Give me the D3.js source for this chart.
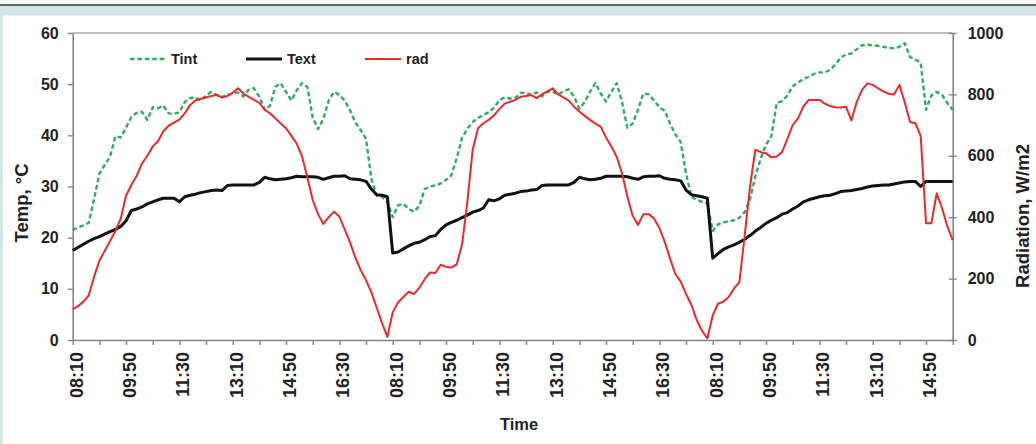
<!DOCTYPE html>
<html><head><meta charset="utf-8">
<script src="https://cdn.jsdelivr.net/npm/d3@7"></script>
<style>
html,body{margin:0;padding:0;background:#fff;}
svg{display:block;font-family:"Liberation Sans",Arial,sans-serif;}
</style></head><body>
<svg id="c" width="1036" height="444"></svg>
<script>
// ---- data ----
const tint = [
21.5,22.0,22.4,22.9,27.5,32.5,34.2,35.8,39.8,39.6,
41.5,43.6,44.4,44.6,43.0,45.5,45.3,45.8,44.3,44.2,
44.5,46.5,47.3,47.4,46.8,47.8,48.5,47.9,47.5,47.9,
48.2,48.4,47.6,48.9,49.2,47.5,45.0,45.8,49.5,50.2,
48.5,46.8,48.8,50.2,49.5,43.5,41.2,43.2,46.8,48.5,
47.9,46.8,44.9,42.5,41.0,39.3,31.5,28.2,28.0,27.0,
24.0,26.3,26.6,25.6,25.1,26.2,29.5,30.0,30.2,30.6,
31.3,32.2,35.5,39.5,41.3,42.6,43.4,44.0,44.5,45.4,
46.9,47.4,47.2,47.3,48.3,48.3,47.9,48.4,47.6,48.5,
48.6,47.9,48.6,49.0,47.6,45.2,46.5,48.5,50.2,48.2,
46.6,48.5,50.2,46.5,41.5,42.3,45.0,48.2,48.0,46.8,
45.5,44.8,42.3,40.2,38.7,32.5,28.0,27.4,27.0,26.7,
21.3,22.6,23.0,23.2,23.4,23.9,25.0,27.5,32.0,35.5,
38.2,39.8,46.3,46.7,47.8,49.6,50.3,51.0,51.4,52.0,
52.3,52.3,52.8,53.8,55.2,55.8,56.0,56.8,57.6,57.7,
57.6,57.5,57.3,57.1,57.0,57.3,58.0,55.3,54.8,54.2,
45.0,47.8,48.5,47.9,46.3,45.0];
const text = [
17.5,18.1,18.7,19.3,19.8,20.2,20.7,21.2,21.6,22.2,
23.3,25.3,25.6,26.0,26.6,27.0,27.4,27.7,27.7,27.7,
27.0,28.0,28.3,28.5,28.8,29.0,29.2,29.3,29.2,30.2,
30.3,30.3,30.3,30.3,30.3,30.8,31.8,31.5,31.3,31.4,
31.5,31.7,32.0,31.9,31.9,31.9,31.8,31.4,31.7,32.0,
32.0,32.1,31.5,31.4,31.3,31.0,29.5,28.4,28.3,28.0,
17.0,17.2,17.8,18.4,18.9,19.1,19.6,20.2,20.4,21.6,
22.5,23.0,23.4,23.9,24.4,25.0,25.3,25.8,27.4,27.2,
27.6,28.3,28.5,28.7,29.0,29.1,29.3,29.4,30.2,30.3,
30.3,30.3,30.3,30.3,30.8,31.8,31.5,31.3,31.4,31.6,
32.0,32.0,32.0,32.0,31.9,31.6,31.4,31.9,32.0,32.0,
32.1,31.6,31.4,31.3,31.1,29.3,28.4,28.2,28.0,27.7,
16.0,16.9,17.7,18.2,18.6,19.1,19.7,20.4,21.3,22.0,
22.8,23.4,23.9,24.6,24.9,25.6,26.2,27.0,27.4,27.7,
28.0,28.2,28.3,28.6,29.0,29.1,29.2,29.4,29.6,29.9,
30.1,30.2,30.3,30.3,30.5,30.7,30.9,31.0,31.0,30.0,
31.0,31.0,31.0,31.0,31.0,31.0];
const rad = [
100,110,125,145,205,258,290,322,355,395,
470,505,535,575,600,630,648,680,698,708,
718,738,765,780,786,790,795,798,790,795,
805,820,803,792,782,772,750,738,722,705,
690,665,640,598,530,456,410,378,400,418,
402,360,318,268,228,195,155,105,55,10,
90,122,140,157,150,170,198,220,218,245,
238,236,246,310,450,620,690,706,717,732,
752,770,776,782,792,795,798,788,800,810,
820,800,790,780,760,744,730,717,705,695,
660,630,597,543,467,405,375,410,410,396,
365,320,265,215,190,150,115,65,30,5,
80,118,125,140,168,188,340,500,620,612,
608,595,598,612,655,700,722,760,782,782,
782,770,762,758,757,760,715,775,815,836,
831,820,810,802,800,831,775,710,706,665,
380,380,478,430,370,325];

const dayStart = "08:10";
const dayCounts = [60, 60, 46];
const xTickLabels = ["08:10","09:50","11:30","13:10","14:50","16:30",
                     "08:10","09:50","11:30","13:10","14:50","16:30",
                     "08:10","09:50","11:30","13:10","14:50"];
const tempTicks = [0,10,20,30,40,50,60];
const radTicks = [0,200,400,600,800,1000];
const seriesNames = ["Tint","Text","rad"];
const yTitleLeft = "Temp, \u00B0C";
const yTitleRight = "Radiation, W/m2";
const xTitle = "Time";

// categories: 10-minute readings for each day
const categories = [];
dayCounts.forEach(n => {
  const [h0, m0] = dayStart.split(":").map(Number);
  for (let k = 0; k < n; k++) {
    const t = h0 * 60 + m0 + 10 * k;
    categories.push(String(Math.floor(t / 60)).padStart(2, "0") + ":" + String(t % 60).padStart(2, "0"));
  }
});

// ---- layout ----
const svg = d3.select("#c");
const L = 72.7, R = 952.7, T = 33, B = 340;
const inkCol = "#222";

// page frame
svg.append("rect").attr("x",0).attr("y",0).attr("width",1036).attr("height",444).attr("fill","#fff");
svg.append("rect").attr("x",0).attr("y",5.5).attr("width",1036).attr("height",10).attr("fill","#d3e6e6");
svg.append("rect").attr("x",0).attr("y",5.5).attr("width",3).attr("height",440).attr("fill","#d3e6e6");
svg.append("line").attr("x1",0).attr("x2",1036).attr("y1",5).attr("y2",5).attr("stroke","#333").attr("stroke-width",1.5);

const x = d3.scalePoint().domain(d3.range(categories.length)).range([L, R]);
const yT = d3.scaleLinear().domain([0, 60]).range([B, T]);
const yR = d3.scaleLinear().domain([0, 1000]).range([B, T]);

// plot top border
svg.append("line").attr("x1",L).attr("x2",R).attr("y1",T).attr("y2",T)
  .attr("stroke","#bdbdbd").attr("stroke-width",2);

// left axis
const gL = svg.append("g").attr("transform",`translate(${L},0)`)
  .call(d3.axisLeft(yT).tickValues(tempTicks).tickSize(5).tickSizeOuter(0).tickPadding(9).tickFormat(d3.format("d")));
// right axis
const gR = svg.append("g").attr("transform",`translate(${R},0)`)
  .call(d3.axisRight(yR).tickValues(radTicks).tickSize(4).tickSizeOuter(0).tickPadding(11).tickFormat(d3.format("d")));
gR.selectAll(".tick line").attr("x1",-4).attr("x2",4);
// x axis
const gX = svg.append("g").attr("transform",`translate(0,${B})`)
  .call(d3.axisBottom(x).tickValues(d3.range(0, categories.length, 5)).tickSize(5).tickSizeOuter(0)
    .tickFormat(i => i % 10 === 0 ? xTickLabels[i / 10] : ""));
gX.selectAll(".tick text")
  .attr("transform","rotate(-90)")
  .attr("text-anchor","end")
  .attr("x",-12).attr("y",0).attr("dy","0.52em")
  .style("font-size","18px");

[gL, gR, gX].forEach(g => {
  g.select(".domain").attr("stroke","#858585").attr("stroke-width",1.6);
  g.selectAll(".tick line").attr("stroke","#858585").attr("stroke-width",1.4);
  g.selectAll(".tick text").attr("fill",inkCol).style("font-weight","bold");
});
gL.selectAll(".tick text").style("font-size","16px");
gR.selectAll(".tick text").style("font-size","16px");

// titles
svg.append("text").attr("transform",`translate(28,203) rotate(-90)`).attr("text-anchor","middle")
  .style("font-size","18.5px").style("font-weight","bold").attr("fill",inkCol).text(yTitleLeft);
svg.append("text").attr("transform",`translate(1029,216) rotate(-90)`).attr("text-anchor","middle")
  .style("font-size","18.5px").style("font-weight","bold").attr("fill",inkCol).text(yTitleRight);
svg.append("text").attr("x",519).attr("y",430).attr("text-anchor","middle")
  .style("font-size","16.5px").style("font-weight","bold").attr("fill",inkCol).text(xTitle);

// series
const styles = {
  Tint: {color:"#34a865", width:2.4, dash:"4.6,2.8"},
  Text: {color:"#111111", width:3, dash:null},
  rad:  {color:"#e8292d", width:2, dash:null}
};
const lineT = d3.line().x((d,i) => x(i)).y(d => yT(d));
const lineR = d3.line().x((d,i) => x(i)).y(d => yR(d));
const drawSeries = (data, gen, st) => {
  const p = svg.append("path").datum(data).attr("d", gen).attr("fill","none")
    .attr("stroke", st.color).attr("stroke-width", st.width).attr("stroke-linejoin","round");
  if (st.dash) p.attr("stroke-dasharray", st.dash);
};
drawSeries(tint, lineT, styles.Tint);
drawSeries(text, lineT, styles.Text);
drawSeries(rad, lineR, styles.rad);

// legend
const legendX = [130, 246, 365];
seriesNames.forEach((name, k) => {
  const st = styles[name];
  const g = svg.append("g").attr("transform", `translate(${legendX[k]},59)`);
  const ln = g.append("line").attr("x1",0).attr("x2",36).attr("y1",0).attr("y2",0)
    .attr("stroke", st.color).attr("stroke-width", st.width);
  if (st.dash) ln.attr("stroke-dasharray", st.dash);
  g.append("text").attr("x",41).attr("y",0).attr("dy","0.36em")
    .style("font-size","14.5px").style("font-weight","bold").attr("fill",inkCol).text(name);
});
</script>
</body></html>
